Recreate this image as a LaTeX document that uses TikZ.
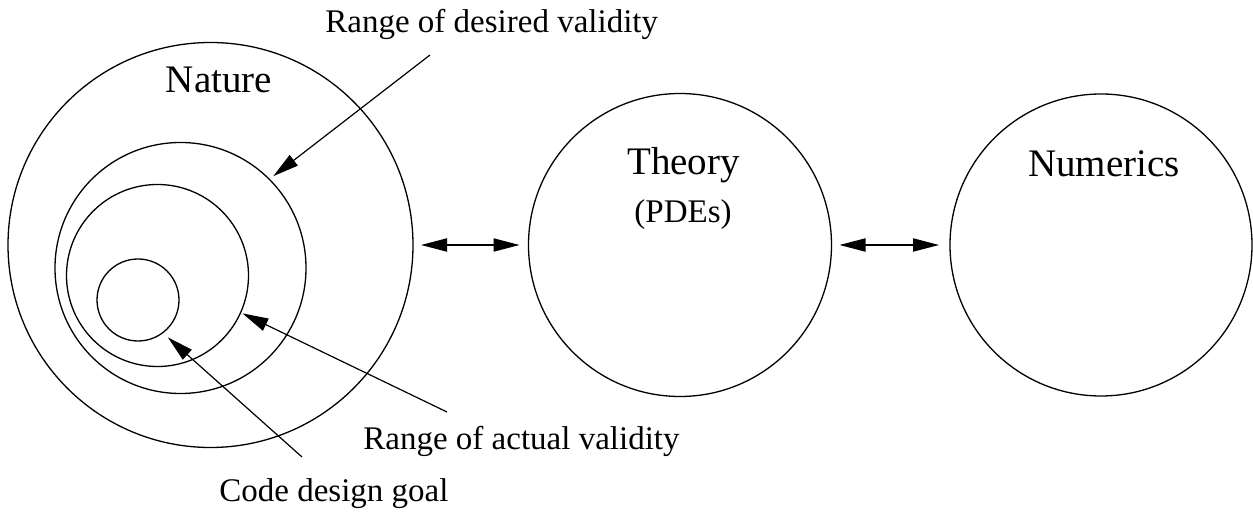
\documentclass[tikz,border=0pt]{standalone}
\usepackage{fontspec}
\setmainfont{Liberation Serif}
\usepackage{tikz}
\usetikzlibrary{arrows.meta}
\newcommand{\ScopeBig}{\fontsize{19.5}{22}\selectfont}
\newcommand{\ScopeSmall}{\fontsize{16.5}{19}\selectfont}
\tikzset{
  setcircle/.style={
    draw=black,
    circle,
    line width=0.65pt,
    inner sep=0pt,
    outer sep=0pt
  },
  biglabel/.style={
    font=\ScopeBig,
    inner sep=0pt,
    anchor=base
  },
  smalllabel/.style={
    font=\ScopeSmall,
    inner sep=0pt,
    anchor=base west
  },
  linkarrow/.style={
    {Triangle[length=13pt,width=6.6pt]}-{Triangle[length=13pt,width=6.6pt]},
    line width=0.6pt
  },
  pointarrow/.style={
    -{Triangle[length=13pt,width=6.6pt]},
    line width=0.6pt
  }
}

\begin{document}
\begin{tikzpicture}[x=0.5pt,y=-0.5pt]
\path[use as bounding box] (0,0) rectangle (1253,512);

% nested validity sets
\node[setcircle, minimum size=202.5pt] (nature) at (210.5,245) {};
\node[setcircle, minimum size=125.5pt] (desired) at (180.5,268) {};
\node[setcircle, minimum size=91pt] (actual) at (157.5,275.5) {};
\node[setcircle, minimum size=41pt] (goal) at (138,300) {};

\node[setcircle, minimum size=151.5pt] (theory) at (680,245) {};
\node[setcircle, minimum size=151pt] (numerics) at (1101,245) {};

\node[biglabel] (naturetext) at (219,93) {Nature};
\node[biglabel] (theorytext) at (683.5,175) {Theory};
\node[biglabel, font=\ScopeSmall] (pdetext) at (683,223) {(PDEs)};
\node[biglabel] (numericstext) at (1104,177) {Numerics};

\node[smalllabel] (desiredtext) at (325,33) {Range of desired validity};
\node[smalllabel] (actualtext) at (363,450) {Range of actual validity};
\node[smalllabel] (goaltext) at (219,502) {Code design goal};

\coordinate (desiredfoot) at (430,55);
\coordinate (actualfoot) at (447,412);
\coordinate (goalfoot) at (302,457);

\draw[pointarrow, shorten >=2.5pt] (desiredfoot) -- (desired.45);
\draw[pointarrow, shorten >=1pt] (actualfoot) -- (actual.-24);
\draw[pointarrow, shorten >=3.5pt] (goalfoot) -- (goal.-53);

\draw[linkarrow, shorten <=4pt, shorten >=4.5pt] (nature.east) -- (theory.west);
\draw[linkarrow, shorten <=4pt, shorten >=5.5pt] (theory.east) -- (numerics.west);

\end{tikzpicture}
\end{document}
